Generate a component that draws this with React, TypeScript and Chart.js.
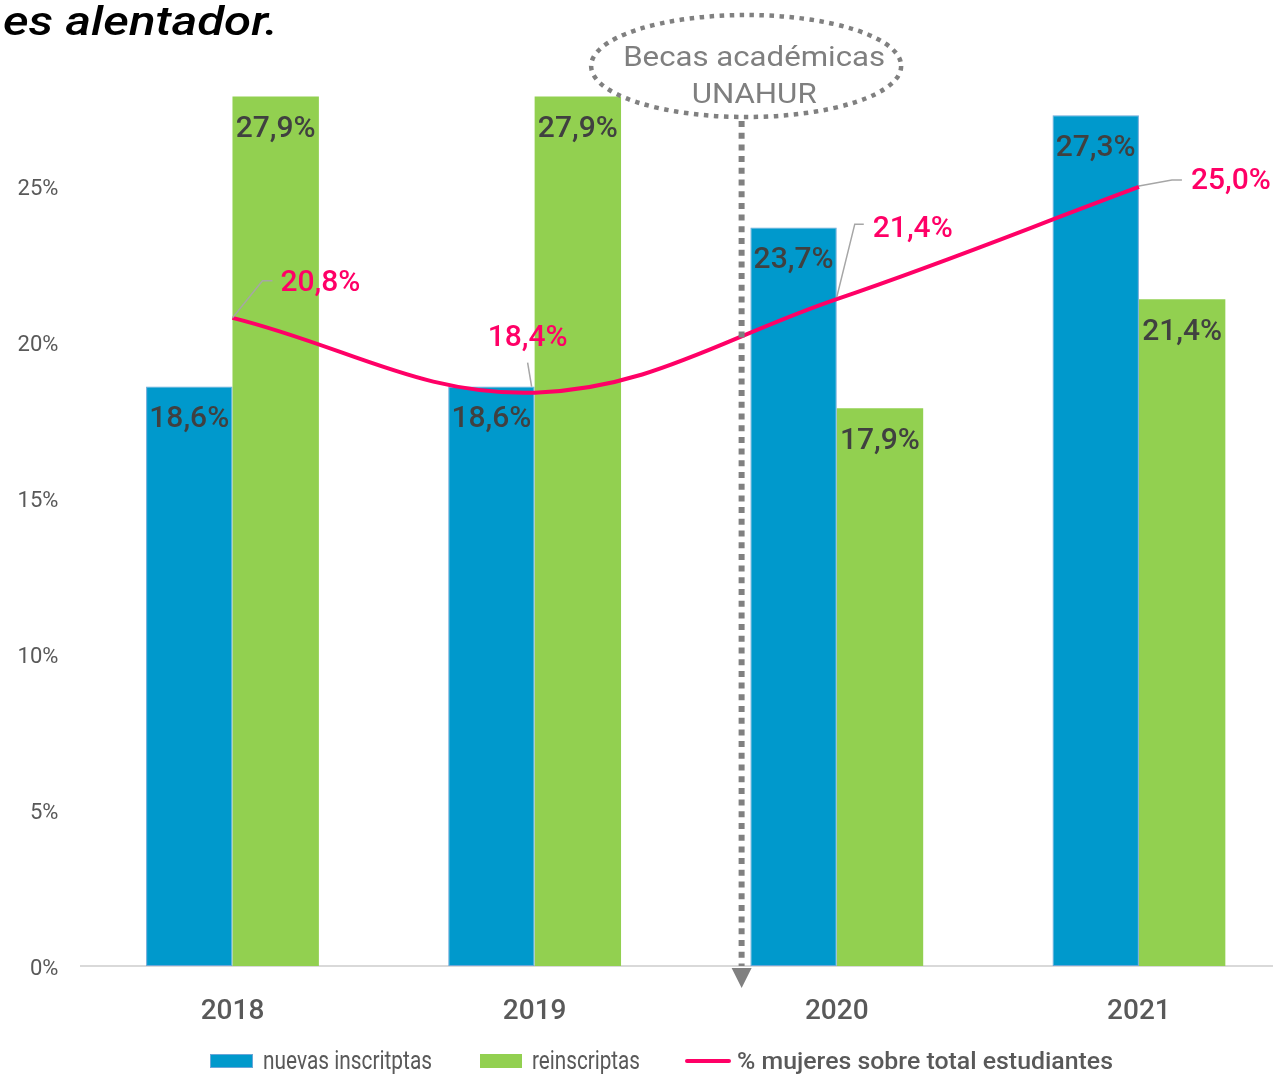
import React, { useEffect, useRef } from "react";
import { Chart, registerables } from "chart.js";

Chart.register(...registerables);

const years = ["2018", "2019", "2020", "2021"];
const nuevas = [18.6, 18.6, 23.7, 27.3];
const reinscriptas = [27.9, 27.9, 17.9, 21.4];
const mujeres = [20.8, 18.4, 21.4, 25.0];
const yTicks = [0, 5, 10, 15, 20, 25];
const seriesNames = ["nuevas inscritptas", "reinscriptas", "% mujeres sobre total estudiantes"];
const titleText = "es alentador.";
const noteLines = ["Becas académicas", "UNAHUR"];

const BLUE = "#0099CC";
const GREEN = "#92D050";
const PINK = "#FF0066";
const GREY = "#595959";
const FONT = "Roboto, 'DejaVu Sans', sans-serif";

const fmt = (v: number) => v.toFixed(1).replace(".", ",") + "%";

function fitText(ctx: CanvasRenderingContext2D, text: string, x: number, y: number, w: number, align: "left" | "center" = "left") {
  const m = ctx.measureText(text).width;
  const s = w / m;
  ctx.save();
  ctx.translate(align === "center" ? x - w / 2 : x, y);
  ctx.scale(s, 1);
  ctx.textAlign = "left";
  ctx.fillText(text, 0, 0);
  ctx.restore();
}

// leader-line/label placement for the line labels (relative to the point)
const lineLabelStyle = [
  { leader: [[0, 0], [30, -37], [40, -37]], tx: 48, ty: -35, align: "left" },
  { leader: [[-3, -6], [-7, -30]], tx: -7, ty: -55, align: "center" },
  { leader: [[0, -2], [18, -75], [27, -75]], tx: 36, ty: -71, align: "left" },
  { leader: [[0, -1], [33, -7], [43, -7]], tx: 52, ty: -6, align: "left" },
];

const overlay = {
  id: "overlay",
  afterDatasetsDraw(chart: any) {
    const ctx: CanvasRenderingContext2D = chart.ctx;
    const xs = chart.scales.x;
    ctx.save();
    // bar labels
    ctx.font = `500 30px ${FONT}`;
    ctx.fillStyle = "#404040";
    ctx.textAlign = "center";
    ctx.textBaseline = "middle";
    [1, 2].forEach((di) => {
      const meta = chart.getDatasetMeta(di);
      const vals = chart.data.datasets[di].data;
      meta.data.forEach((el: any, i: number) => {
        ctx.fillText(fmt(vals[i]), el.x, el.y + 33);
      });
    });
    // line labels
    const lm = chart.getDatasetMeta(0);
    lm.data.forEach((el: any, i: number) => {
      const st = lineLabelStyle[i];
      ctx.strokeStyle = "#A6A6A6";
      ctx.lineWidth = 1.5;
      ctx.beginPath();
      st.leader.forEach((p, k) => {
        if (k === 0) ctx.moveTo(el.x + p[0], el.y + p[1]);
        else ctx.lineTo(el.x + p[0], el.y + p[1]);
      });
      ctx.stroke();
      ctx.fillStyle = PINK;
      ctx.font = `500 30px ${FONT}`;
      ctx.textAlign = st.align as CanvasTextAlign;
      ctx.textBaseline = "middle";
      ctx.fillText(fmt(mujeres[i]), el.x + st.tx, el.y + st.ty + 1);
    });

    // annotation
    const ex = xs.getPixelForValue(1.7);
    const ax = xs.getPixelForValue(1.685);
    ctx.strokeStyle = "#808080";
    ctx.lineWidth = 4.5;
    ctx.setLineDash([4.5, 5.5]);
    ctx.beginPath();
    ctx.ellipse(ex, 66, 155, 51, 0, 0, Math.PI * 2);
    ctx.stroke();
    ctx.lineWidth = 6;
    ctx.setLineDash([6, 5.7]);
    ctx.beginPath();
    ctx.moveTo(ax, 121);
    ctx.lineTo(ax, 966);
    ctx.stroke();
    ctx.setLineDash([]);
    ctx.fillStyle = "#808080";
    ctx.beginPath();
    ctx.moveTo(ax - 10, 968);
    ctx.lineTo(ax + 10, 968);
    ctx.lineTo(ax, 988);
    ctx.closePath();
    ctx.fill();
    ctx.fillStyle = "#7F7F7F";
    ctx.font = `400 28px ${FONT}`;
    ctx.textBaseline = "alphabetic";
    fitText(ctx, noteLines[0], ex + 8, 66, 262, "center");
    fitText(ctx, noteLines[1], ex + 8, 103, 125, "center");

    // title
    ctx.fillStyle = "#000000";
    ctx.font = `italic 500 41px ${FONT}`;
    fitText(ctx, titleText, 3, 35, 275);

    // legend
    const ly = 1061;
    ctx.fillStyle = BLUE;
    ctx.fillRect(210, ly - 7, 43, 14);
    ctx.strokeStyle = "#6AA6D8";
    ctx.lineWidth = 1;
    ctx.strokeRect(210.5, ly - 6.5, 42, 13);
    ctx.fillStyle = GREEN;
    ctx.fillRect(480, ly - 7, 42, 14);
    ctx.strokeStyle = PINK;
    ctx.lineWidth = 4;
    ctx.lineCap = "round";
    ctx.beginPath();
    ctx.moveTo(687, ly);
    ctx.lineTo(729, ly);
    ctx.stroke();
    ctx.fillStyle = GREY;
    ctx.textBaseline = "middle";
    ctx.font = `400 25px ${FONT}`;
    fitText(ctx, seriesNames[0], 263, ly + 2, 169);
    fitText(ctx, seriesNames[1], 532, ly + 2, 108);
    ctx.font = `500 24px ${FONT}`;
    fitText(ctx, seriesNames[2], 737, ly + 2, 376);
    ctx.restore();
  },
};

export default function App() {
  const ref = useRef<HTMLCanvasElement>(null);
  useEffect(() => {
    if (!ref.current) return;
    const chart = new Chart(ref.current, {
      type: "bar",
      data: {
        labels: years,
        datasets: [
          {
            type: "line",
            label: seriesNames[2],
            data: mujeres,
            borderColor: PINK,
            borderWidth: 4,
            pointRadius: 0,
            tension: 0.38,
            order: 0,
          } as any,
          {
            label: seriesNames[0],
            data: nuevas,
            backgroundColor: BLUE,
            borderColor: "#6AA6D8",
            borderWidth: 1,
            borderSkipped: false,
            order: 1,
          },
          {
            label: seriesNames[1],
            data: reinscriptas,
            backgroundColor: GREEN,
            borderWidth: 0,
            order: 2,
          },
        ],
      },
      options: {
        responsive: false,
        animation: false,
        devicePixelRatio: 1,
        layout: { padding: { top: 93.5, right: 10, left: 0, bottom: 0 } },
        datasets: { bar: { barPercentage: 1, categoryPercentage: 0.572 } },
        plugins: { legend: { display: false }, tooltip: { enabled: false }, title: { display: false } },
        scales: {
          x: {
            grid: { display: false, drawTicks: false },
            border: { display: true, color: "#D9D9D9", width: 2 },
            ticks: { color: GREY, font: { family: FONT, size: 28, weight: "500" }, padding: 29 },
            afterFit: (s: any) => {
              s.height = 110;
            },
          },
          y: {
            min: 0,
            max: 28,
            grid: { display: false, drawTicks: false },
            border: { display: false },
            ticks: {
              color: GREY,
              font: { family: FONT, size: 22 },
              padding: 23,
              labelOffset: 3,
              callback: (v: any) => v + "%",
            },
            afterBuildTicks: (s: any) => {
              s.ticks = yTicks.map((v) => ({ value: v }));
            },
            afterFit: (s: any) => {
              s.width = 81.4;
            },
          },
        },
      },
      plugins: [overlay],
    });
    return () => chart.destroy();
  }, []);
  return (
    <div style={{ position: "absolute", left: 0, top: 0, width: 1273, height: 1076, overflow: "hidden", background: "#fff" }}>
      <canvas ref={ref} width={1300} height={1076} style={{ display: "block", width: 1300, height: 1076 }} />
    </div>
  );
}
